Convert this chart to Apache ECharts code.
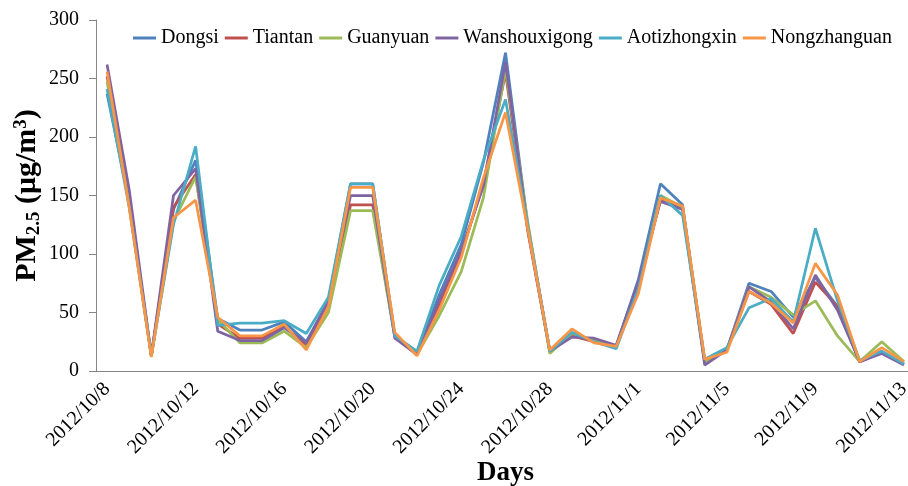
<!DOCTYPE html>
<html>
<head>
<meta charset="utf-8">
<script src="https://cdn.jsdelivr.net/npm/echarts@6/dist/echarts.min.js"></script>
<style>
    html, body { margin: 0; padding: 0; background: #fff; }
    #chart { width: 908px; height: 486px; }
</style>
</head>
<body>
<div id="chart"></div>
<script>
// 日期 2012/10/8 - 2012/11/13
var days = [];
var d = new Date(2012, 9, 8);
for (var i = 0; i < 37; i++) {
    days.push(d.getFullYear() + '/' + (d.getMonth() + 1) + '/' + d.getDate());
    d.setDate(d.getDate() + 1);
}

var stations = ['Dongsi', 'Tiantan', 'Guanyuan', 'Wanshouxigong', 'Aotizhongxin', 'Nongzhanguan'];
var colors = ['#4F81BD', '#C0504D', '#9BBB59', '#8064A2', '#4BACC6', '#F79646'];

var dongsi = [237, 145, 13, 138, 180, 45, 35, 35, 42, 25, 60, 160, 160, 30, 15, 65, 108, 178, 272, 125, 18,
    30, 27, 21, 78, 160, 142, 8, 18, 75, 68, 46, 80, 55, 8, 16, 6];
var tiantan = [252, 142, 13, 140, 168, 40, 28, 28, 38, 22, 55, 142, 142, 30, 14, 55, 100, 160, 255, 120, 17,
    30, 25, 21, 70, 147, 140, 8, 18, 68, 57, 32, 76, 55, 8, 16, 6];
var guanyuan = [247, 147, 13, 128, 166, 44, 24, 24, 34, 20, 50, 137, 137, 30, 14, 47, 85, 148, 258, 128, 15,
    32, 26, 21, 72, 150, 140, 8, 18, 72, 63, 48, 60, 30, 8, 25, 8];
var wanshou = [262, 155, 13, 150, 173, 34, 26, 26, 37, 24, 60, 150, 150, 28, 14, 60, 103, 158, 264, 122, 17,
    29, 28, 22, 76, 145, 138, 5, 18, 72, 59, 36, 82, 52, 8, 15, 5];
var aoti = [241, 140, 13, 125, 192, 39, 41, 41, 43, 32, 63, 160, 160, 30, 17, 73, 115, 180, 232, 125, 17,
    33, 25, 19, 70, 150, 133, 10, 20, 54, 62, 42, 122, 60, 9, 17, 6];
var nong = [256, 140, 12, 131, 146, 46, 30, 30, 40, 18, 55, 157, 157, 33, 13, 52, 97, 165, 221, 122, 18,
    36, 24, 21, 66, 148, 141, 10, 16, 68, 58, 41, 92, 65, 8, 20, 8];
var seriesData = [dongsi, tiantan, guanyuan, wanshou, aoti, nong];

var yTicks = [0, 50, 100, 150, 200, 250, 300];

var serif = '"Liberation Serif", "DejaVu Serif", serif';

var series = stations.map(function (name, idx) {
    return {
        name: name,
        type: 'line',
        data: seriesData[idx],
        symbol: 'none',
        smooth: false,
        lineStyle: { width: 2.75, color: colors[idx] },
        itemStyle: { color: colors[idx] }
    };
});

var myChart = echarts.init(document.getElementById('chart'));
var option = {
    animation: false,
    color: colors,
    textStyle: { fontFamily: serif },
    legend: {
        top: 23,
        left: 128,
        itemGap: 6,
        itemWidth: 23,
        itemHeight: 3,
        icon: 'rect',
        textStyle: { fontFamily: serif, fontSize: 20, color: '#000' },
        data: stations
    },
    grid: {
        left: 96,
        right: -7,
        top: 20,
        bottom: 115,
        containLabel: false,
        outerBoundsMode: 'none'
    },
    xAxis: {
        type: 'category',
        data: days,
        boundaryGap: true,
        name: 'Days',
        nameLocation: 'middle',
        nameGap: 89,
        nameMoveOverlap: false,
        nameTextStyle: { fontFamily: serif, fontSize: 27, fontWeight: 'bold', color: '#000' },
        axisLine: { lineStyle: { color: '#868686', width: 1 } },
        axisTick: { alignWithLabel: false, interval: 3, length: 6, lineStyle: { color: '#868686' } },
        axisLabel: {
            interval: 3,
            rotate: 45,
            margin: 15,
            fontFamily: serif,
            fontSize: 20,
            color: '#000'
        }
    },
    yAxis: {
        type: 'value',
        min: yTicks[0],
        max: yTicks[yTicks.length - 1],
        interval: 50,
        name: '{b|PM}{sub|2.5}{b| (μg/m}{sup|3}{b|)}',
        nameLocation: 'middle',
        nameGap: 51,
        nameRotate: 90,
        nameMoveOverlap: false,
        nameTextStyle: {
            rich: {
                b: { fontFamily: serif, fontSize: 30, fontWeight: 'bold', color: '#000', lineHeight: 36, verticalAlign: 'middle' },
                sub: { fontFamily: serif, fontSize: 19, fontWeight: 'bold', color: '#000', lineHeight: 36, verticalAlign: 'bottom', padding: [0, 0, 1, 0] },
                sup: { fontFamily: serif, fontSize: 19, fontWeight: 'bold', color: '#000', lineHeight: 36, verticalAlign: 'top', padding: [3, 0, 0, 0] }
            }
        },
        splitLine: { show: false },
        axisLine: { show: true, lineStyle: { color: '#868686', width: 1 } },
        axisTick: { show: true, length: 7, lineStyle: { color: '#868686' } },
        axisLabel: {
            margin: 17,
            fontFamily: serif,
            fontSize: 20,
            color: '#000'
        }
    },
    series: series
};
myChart.setOption(option);
</script>
</body>
</html>
